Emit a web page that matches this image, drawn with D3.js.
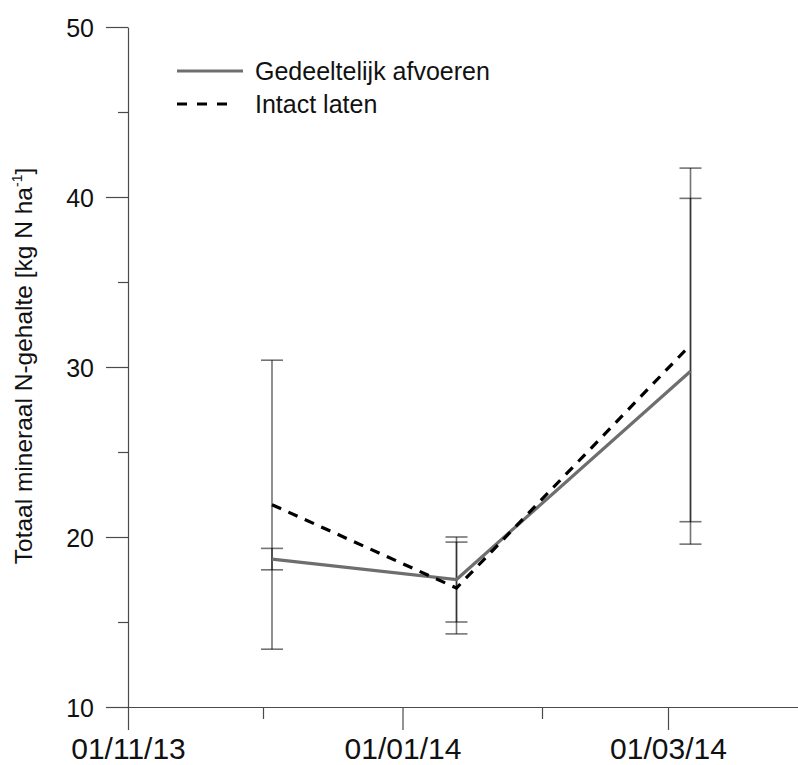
<!DOCTYPE html>
<html>
<head>
<meta charset="utf-8">
<script src="https://cdn.jsdelivr.net/npm/d3@7"></script>
<style>
  html, body { margin: 0; padding: 0; background: #fff; }
  svg { display: block; font-family: "Liberation Sans", Arial, sans-serif; }
</style>
</head>
<body>
<svg id="chart" width="798" height="765"></svg>
<script>
// Sampling dates
const sampleDates = ["2013-12-03", "2014-01-13", "2014-03-06"];

// Series: mean mineral N and error (±) per sampling date
const seriesNames = ["Gedeeltelijk afvoeren", "Intact laten"];
const gedeeltelijkMean = [18.7, 17.5, 29.75];
const gedeeltelijkErr  = [0.63, 2.5, 10.17];
const intactMean = [21.9, 17.0, 31.3];
const intactErr  = [8.5, 2.7, 10.4];

// Axis ticks
const yMajorTicks = [10, 20, 30, 40, 50];
const yMinorTicks = [15, 25, 35, 45];
const xMajorTicks = ["2013-11-01", "2014-01-01", "2014-03-01"];
const xMinorTicks = ["2013-12-01", "2014-02-01"];
const yTitle = "Totaal mineraal N-gehalte [kg N ha";

const parse = d3.utcParse("%Y-%m-%d");
const svg = d3.select("#chart");

const x = d3.scaleUtc()
  .domain([parse("2013-11-01"), parse("2014-04-01")])
  .range([128, 807.5]);
const y = d3.scaleLinear().domain([10, 50]).range([707, 27]);

const axisColor = "#4a4a4a";

// Y axis: major and minor ticks
const gy = svg.append("g").attr("transform", `translate(${x.range()[0]},0)`);
gy.call(d3.axisLeft(y).tickValues(yMajorTicks).tickSize(22).tickSizeOuter(0).tickPadding(12).tickFormat(d3.format("d")));
const gyMinor = svg.append("g").attr("transform", `translate(${x.range()[0]},0)`);
gyMinor.call(d3.axisLeft(y).tickValues(yMinorTicks).tickSize(10).tickFormat(""));
gyMinor.select(".domain").remove();
gy.selectAll(".tick text")
  .attr("font-size", 25)
  .attr("dy", "0.36em");

// X axis: major and minor ticks
const gx = svg.append("g").attr("transform", `translate(0,${y(10)})`);
gx.call(d3.axisBottom(x).tickValues(xMajorTicks.map(parse)).tickSize(23).tickSizeOuter(0).tickPadding(8).tickFormat(d3.utcFormat("%d/%m/%y")));
const gxMinor = svg.append("g").attr("transform", `translate(0,${y(10)})`);
gxMinor.call(d3.axisBottom(x).tickValues(xMinorTicks.map(parse)).tickSize(12).tickFormat(""));
gxMinor.select(".domain").remove();
gx.selectAll(".tick text").attr("font-size", 30);

svg.selectAll(".domain, .tick line").attr("stroke", axisColor).attr("stroke-width", 1.2);
svg.selectAll(".tick text")
  .attr("font-family", "Liberation Sans, Arial, sans-serif")
  .attr("fill", "#111");

// Y axis title
const title = svg.append("text")
  .attr("transform", `translate(32,${366}) rotate(-90)`)
  .attr("text-anchor", "middle")
  .attr("font-size", 24.5)
  .attr("fill", "#111");
title.append("tspan").text(yTitle);
title.append("tspan").attr("font-size", 14).attr("dy", -10).text("-1");
title.append("tspan").attr("dy", 10).text("]");

// Build point records
const series = [
  { name: seriesNames[0], mean: gedeeltelijkMean, err: gedeeltelijkErr, color: "#6e6e6e", dash: null },
  { name: seriesNames[1], mean: intactMean, err: intactErr, color: "#000", dash: "10,8" }
].map(s => ({
  ...s,
  points: sampleDates.map((d, i) => ({ date: parse(d), mean: s.mean[i], err: s.err[i] }))
}));

// Error bars
const capHalf = 11;
series.forEach(s => {
  const g = svg.append("g")
    .attr("stroke", "#000")
    .attr("stroke-opacity", 0.55)
    .attr("stroke-width", 1.6);
  s.points.forEach(p => {
    const cx = x(p.date);
    g.append("line").attr("x1", cx).attr("x2", cx).attr("y1", y(p.mean + p.err)).attr("y2", y(p.mean - p.err));
    g.append("line").attr("x1", cx - capHalf).attr("x2", cx + capHalf).attr("y1", y(p.mean + p.err)).attr("y2", y(p.mean + p.err));
    g.append("line").attr("x1", cx - capHalf).attr("x2", cx + capHalf).attr("y1", y(p.mean - p.err)).attr("y2", y(p.mean - p.err));
  });
});

// Mean lines
const line = d3.line().x(d => x(d.date)).y(d => y(d.mean));
series.forEach(s => {
  svg.append("path")
    .datum(s.points)
    .attr("d", line)
    .attr("fill", "none")
    .attr("stroke", s.color)
    .attr("stroke-width", 3.2)
    .attr("stroke-dasharray", s.dash);
});

// Legend
const legendRows = [
  { s: series[0], y: 71, x2: 243 },
  { s: series[1], y: 104, x2: 228 }
];
legendRows.forEach(r => {
  svg.append("line")
    .attr("x1", 177).attr("x2", r.x2).attr("y1", r.y).attr("y2", r.y)
    .attr("stroke", r.s.color).attr("stroke-width", 3.2)
    .attr("stroke-dasharray", r.s.dash ? "10,10" : null);
  svg.append("text")
    .attr("x", 255).attr("y", r.y)
    .attr("dy", "0.35em")
    .attr("font-size", 25)
    .attr("fill", "#111")
    .text(r.s.name);
});
</script>
</body>
</html>
